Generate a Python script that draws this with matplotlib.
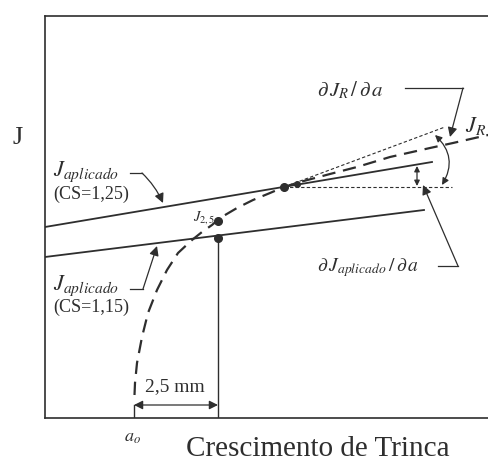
import matplotlib.pyplot as plt
from matplotlib.patches import FancyArrowPatch

plt.rcParams['font.family'] = ['Liberation Serif', 'DejaVu Serif']
plt.rcParams['mathtext.fontset'] = 'stix'

# curva J_R (tracejada)
jr_x = [89.5, 90, 92, 97, 103, 112, 122, 133, 147, 157, 167, 175, 192, 208,
        225, 239, 255, 285, 312, 345, 385, 408, 443, 455]
jr_y = [23, 35, 55, 81, 105, 128, 148, 165, 178, 186, 193, 200, 210, 218,
        225, 231, 236, 244, 251, 261, 270, 275, 283, 286]

# retas J aplicado
japp125_x = [0, 387]
japp125_y = [191, 256]
japp115_x = [0, 379]
japp115_y = [161, 208]

# tangente e horizontal no ponto de instabilidade
tang_x = [239, 400]
tang_y = [231, 291]
horiz_x = [239, 407]
horiz_y = [231, 231]

a0 = 89
a25 = 173
pts_x = [173, 173, 239, 252]
pts_y = [197, 180, 231, 234]

ink = '#2e2e2e'

fig = plt.figure(figsize=(4.88, 4.63), dpi=100)
ax = fig.add_axes([45 / 488, 45 / 463, 455 / 488, 402 / 463])
ax.set_xlim(0, 455)
ax.set_ylim(0, 402)
ax.set_xticks([])
ax.set_yticks([])
for s in ax.spines.values():
    s.set_color(ink)
    s.set_linewidth(1.2)

# curvas
ax.plot(jr_x, jr_y, color=ink, lw=1.6, ls=(0, (6, 3.5)))
ax.plot(japp125_x, japp125_y, color=ink, lw=1.3)
ax.plot(japp115_x, japp115_y, color=ink, lw=1.3)
ax.plot(tang_x, tang_y, color=ink, lw=0.8, ls=(0, (3, 2)))
ax.plot(horiz_x, horiz_y, color=ink, lw=0.8, ls=(0, (3, 2)))
ax.plot([a25, a25], [0, pts_y[1]], color=ink, lw=1.0)
ax.plot(pts_x[:3], pts_y[:3], 'o', color=ink, ms=5.5)
ax.plot(pts_x[3:], pts_y[3:], 'o', color=ink, ms=4)

# textos
ax.text(-27, 280, 'J', fontsize=19, color=ink, ha='center', va='center')
ax.text(8, 246, r'$J_{aplicado}$', fontsize=16, color=ink, va='center')
ax.text(8, 224, '(CS=1,25)', fontsize=13, color=ink, va='center')
ax.text(8, 132, r'$J_{aplicado}$', fontsize=16, color=ink, va='center')
ax.text(8, 111, '(CS=1,15)', fontsize=13, color=ink, va='center')
ax.text(170, 200, r'$J_{2,5}$', fontsize=10.5, color=ink, ha='right', va='center')
ax.text(272, 328, r'$\partial\, J_R\,/\,\partial\, a$', fontsize=15, color=ink, va='center')
ax.text(420, 292, r'$J_R$', fontsize=16, color=ink, va='center')
ax.text(272, 150, r'$\partial\, J_{aplicado}\,/\,\partial\, a$', fontsize=14, color=ink, va='center')
ax.text(100, 31, '2,5 mm', fontsize=14, color=ink, va='center')
ax.text(87, -19, r'$a_o$', fontsize=13, color=ink, ha='center', va='center')
ax.text(273, -31, 'Crescimento de Trinca', fontsize=21, color=ink, ha='center', va='center')

# setas de chamada
arr = dict(arrowstyle='-|>', color=ink, lw=0.9, mutation_scale=14, shrinkA=0, shrinkB=0)
ax.plot([85, 97], [245, 245], color=ink, lw=0.9)
ax.annotate('', xy=(118, 215), xytext=(97, 245), arrowprops=dict(arr, connectionstyle='arc3,rad=-0.1'))
ax.plot([85, 98], [129, 129], color=ink, lw=0.9)
ax.annotate('', xy=(112, 172), xytext=(98, 129), arrowprops=arr)
ax.plot([360, 418], [330, 330], color=ink, lw=0.9)
ax.annotate('', xy=(405, 281), xytext=(418, 330), arrowprops=arr)
ax.plot([393, 413], [152, 152], color=ink, lw=0.9)
ax.annotate('', xy=(378, 233), xytext=(413, 152), arrowprops=arr)

# arco entre tangente e horizontal
arc = FancyArrowPatch((390, 283), (397, 233), arrowstyle='<|-|>', connectionstyle='arc3,rad=-0.4',
                      color=ink, lw=0.9, mutation_scale=10, shrinkA=0, shrinkB=0)
ax.add_patch(arc)
ax.annotate('', xy=(372, 232), xytext=(372, 252),
            arrowprops=dict(arrowstyle='<|-|>', color=ink, lw=0.9, mutation_scale=8, shrinkA=0, shrinkB=0))

# cota 2,5 mm
ax.plot([a0, a0], [0, 13], color=ink, lw=1.0)
ax.annotate('', xy=(a0, 13), xytext=(a25, 13),
            arrowprops=dict(arrowstyle='<|-|>', color=ink, lw=0.9, mutation_scale=13, shrinkA=0, shrinkB=0))

fig.savefig('out.png', dpi=100)
